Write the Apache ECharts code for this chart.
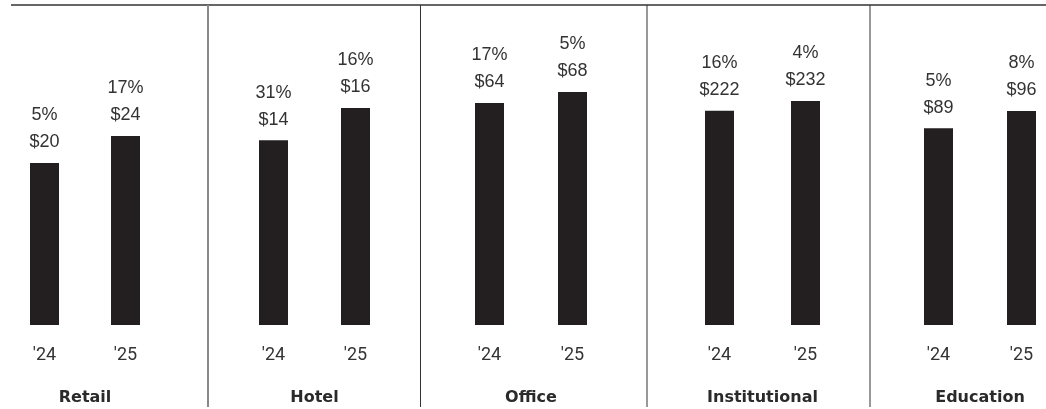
<!DOCTYPE html>
<html>
<head>
<meta charset="utf-8">
<script src="https://cdn.jsdelivr.net/npm/echarts@6/dist/echarts.min.js"></script>
<style>
html,body{margin:0;padding:0;background:#fff;}
#chart{width:1046px;height:409px;}
</style>
</head>
<body>
<div id="chart"></div>
<script>
// ---- data ----
const categories = ['Retail', 'Hotel', 'Office', 'Institutional', 'Education'];
const years = ["'24", "'25"];
const retailValues = [20.4, 23.8];
const hotelValues = [13.8, 16.2];
const officeValues = [64.4, 67.6];
const institutionalValues = [222.4, 232.4];
const educationValues = [88.6, 96.4];
const retailGrowth = ['5%', '17%'];
const hotelGrowth = ['31%', '16%'];
const officeGrowth = ['17%', '5%'];
const institutionalGrowth = ['16%', '4%'];
const educationGrowth = ['5%', '8%'];

const panelValues = [retailValues, hotelValues, officeValues, institutionalValues, educationValues];
const panelGrowth = [retailGrowth, hotelGrowth, officeGrowth, institutionalGrowth, educationGrowth];

// ---- layout ----
const gridLeft = [4, 232.5, 448, 676.5, 897];
const gridWidth = [162, 164, 166, 172, 166];
const yMax = [40.3, 23.89, 92.84, 332.0, 144.15];
const ink = '#231f20';

const grids = [], xAxes = [], yAxes = [], series = [];
categories.forEach((cat, i) => {
  grids.push({left: gridLeft[i], width: gridWidth[i], top: 5, height: 320,
    containLabel: false, outerBoundsMode: 'none'});
  xAxes.push({
    type: 'category', gridIndex: i, data: years,
    axisLine: {show: false}, axisTick: {show: false},
    axisLabel: {fontSize: 18, color: '#333', margin: 21, fontFamily: 'Roboto'},
    name: cat, nameLocation: 'middle', nameGap: 65,
    nameTextStyle: {fontSize: 16, fontWeight: 'bold', color: '#2a2a2a', fontFamily: 'DejaVu Sans'}
  });
  yAxes.push({type: 'value', gridIndex: i, min: 0, max: yMax[i], show: false, splitLine: {show: false}});
  series.push({
    type: 'bar', xAxisIndex: i, yAxisIndex: i, barWidth: 29,
    data: panelValues[i],
    itemStyle: {color: ink},
    label: {
      show: true, position: 'top', distance: 7,
      fontSize: 18, lineHeight: 27, color: '#333', fontFamily: 'Liberation Sans',
      formatter: p => panelGrowth[i][p.dataIndex] + '\n$' + Math.round(p.value)
    },
    silent: true, animation: false
  });
});

const dividerX = [208, 420.5, 647, 870];
const graphics = [
  {type: 'line', shape: {x1: 11, y1: 5, x2: 1046, y2: 5}, style: {stroke: '#333', lineWidth: 1.5}}
];
dividerX.forEach((x, k) => {
  graphics.push({type: 'line', shape: {x1: x, y1: 5, x2: x, y2: 407},
    style: {stroke: k === 0 ? '#888' : '#333', lineWidth: k === 0 ? 2 : 1}});
});

const chart = echarts.init(document.getElementById('chart'), null, {renderer: 'canvas'});
chart.setOption({
  animation: false,
  grid: grids, xAxis: xAxes, yAxis: yAxes, series: series,
  graphic: graphics
});
</script>
</body>
</html>
